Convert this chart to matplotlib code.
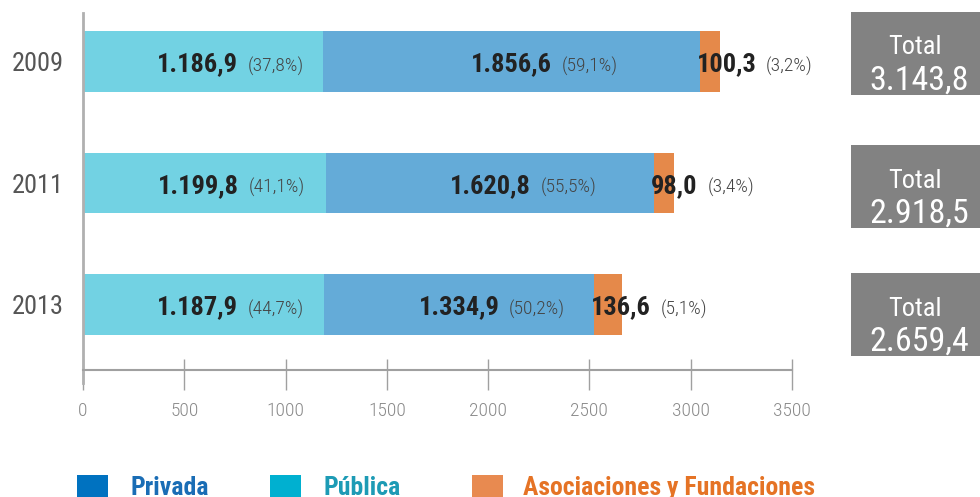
import matplotlib
matplotlib.use('Agg')
import matplotlib.pyplot as plt
from matplotlib.patches import Rectangle

plt.rcParams['font.family'] = ['Roboto Condensed', 'DejaVu Sans']

# datos (millones de euros)
years = ['2009', '2011', '2013']
publica = [1186.9, 1199.8, 1187.9]
privada = [1856.6, 1620.8, 1334.9]
asociaciones = [100.3, 98.0, 136.6]
pct_publica = ['(37,8%)', '(41,1%)', '(44,7%)']
pct_privada = ['(59,1%)', '(55,5%)', '(50,2%)']
pct_asoc = ['(3,2%)', '(3,4%)', '(5,1%)']
totals = ['3.143,8', '2.918,5', '2.659,4']
xticks = [0, 500, 1000, 1500, 2000, 2500, 3000, 3500]

c_pub = '#72d2e3'
c_priv = '#64abd8'
c_asoc = '#e5894a'


def fmt(v):
    s = f'{v:,.1f}'
    return s.replace(',', 'X').replace('.', ',').replace('X', '.')


W, H = 980, 497
fig = plt.figure(figsize=(W / 100, H / 100), dpi=100)
ax = fig.add_axes([83 / W, 1 - 383 / H, (792 - 83) / W, (383 - 13) / H])

ypos = list(range(len(years)))
bh = 0.5
ax.barh(ypos, publica, height=bh, color=c_pub, edgecolor='none')
left2 = publica
ax.barh(ypos, privada, left=left2, height=bh, color=c_priv, edgecolor='none')
left3 = [a + b for a, b in zip(publica, privada)]
ax.barh(ypos, asociaciones, left=left3, height=bh, color=c_asoc, edgecolor='none')

ax.set_xlim(0, 3500)
ax.set_ylim(-0.40 + 370 / 121.5, -0.40)

for s in ['top', 'right']:
    ax.spines[s].set_visible(False)
axis_y = -0.40 + (370 - 13) / 121.5
ax.spines['bottom'].set_position(('data', axis_y))
ax.spines['bottom'].set_color('#a0a0a0')
ax.spines['bottom'].set_linewidth(1.5)
ax.spines['left'].set_color('#b0b0b0')
ax.spines['left'].set_linewidth(2)

ax.set_xticks(xticks)
ax.set_xticklabels([str(t) for t in xticks], fontsize=14, color='#8a8a8a',
                   fontweight='light')
ax.tick_params(axis='x', length=0, pad=23)
ax.vlines(xticks, axis_y - 11 / 121.5, axis_y + 20 / 121.5, color='#a0a0a0',
          lw=1, clip_on=False)

ax.set_yticks(ypos)
ax.set_yticklabels(years, fontsize=19, color='#555555')
ax.tick_params(axis='y', length=0, pad=14)


def label(x, y, val, pct, ha):
    t = ax.annotate(val, xy=(x, y), xytext=(0, -7), textcoords='offset points',
                    ha=ha, va='baseline', fontsize=19, fontweight='bold',
                    color='#222222')
    ax.annotate(pct, xy=(1, 0), xycoords=t, xytext=(7, 0.5),
                textcoords='offset points', ha='left', va='bottom',
                fontsize=14, color='#444444', fontweight='light')


for i in ypos:
    label(publica[i] / 2 + 170, i, fmt(publica[i]), pct_publica[i], 'right')
    label(left2[i] + privada[i] / 2 + 200, i, fmt(privada[i]), pct_privada[i], 'right')
    label(left3[i] - 15, i, fmt(asociaciones[i]), pct_asoc[i], 'left')

# cajas de totales
box_tops = [12, 145, 273]
for top, tot in zip(box_tops, totals):
    fig.add_artist(Rectangle((851 / W, 1 - (top + 83) / H), 140 / W, 83 / H,
                             transform=fig.transFigure, color='#828282', lw=0))
    fig.text(915 / W, 1 - (top + 33) / H, 'Total', ha='center',
             va='center_baseline', fontsize=19, color='white')
    fig.text(919 / W, 1 - (top + 65) / H, tot, ha='center',
             va='center_baseline', fontsize=24.5, color='white')

# leyenda
legend = [('Privada', '#0072c0', '#1a6db5', 77, 131),
          ('Pública', '#00b0d0', '#1d9bb5', 270, 323),
          ('Asociaciones y Fundaciones', '#e88a50', '#e57325', 472, 523)]
for name, sc, tc, sx, tx in legend:
    fig.add_artist(Rectangle((sx / W, 1 - 500 / H), 31 / W, 25 / H,
                             transform=fig.transFigure, color=sc, lw=0))
    fig.text(tx / W, 1 - 495 / H, name, ha='left', va='baseline',
             fontsize=18.5, color=tc, fontweight='bold')

fig.savefig('out.png', dpi=100)
